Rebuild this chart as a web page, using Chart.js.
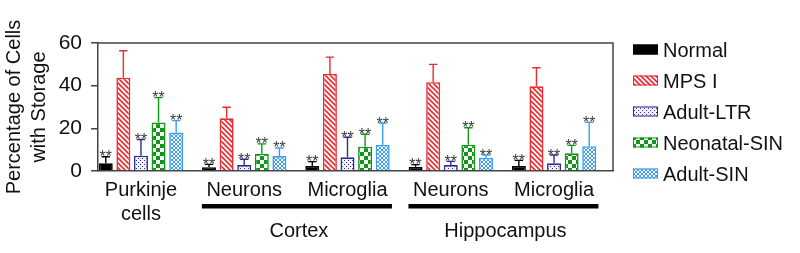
<!DOCTYPE html>
<html><head><meta charset="utf-8">
<script src="https://cdn.jsdelivr.net/npm/chart.js@4/dist/chart.umd.min.js"></script>
<style>html,body{margin:0;padding:0;background:#fff;}canvas{display:block;}</style>
</head><body>
<canvas id="c" width="800" height="253"></canvas>
<script>
// ---- data ----
const categories = [['Purkinje', 'cells'], 'Neurons', 'Microglia', 'Neurons', 'Microglia'];
const groupLabels = ['Cortex', 'Hippocampus'];
const groupFirst = [1, 3];
const groupLast = [2, 4];
const seriesNames = ['Normal', 'MPS I', 'Adult-LTR', 'Neonatal-SIN', 'Adult-SIN'];
const normal    = [3.6, 1.7, 2.3, 2.0, 2.3];
const normalErr = [3.1, 1.4, 2.1, 1.0, 2.7];
const mps       = [43.7, 24.7, 45.5, 41.6, 39.7];
const mpsErr    = [12.7, 5.2, 7.9, 8.4, 8.7];
const ltr       = [7.2, 2.8, 6.4, 2.8, 3.6];
const ltrErr    = [7.6, 2.7, 9.4, 1.7, 3.9];
const neo       = [22.7, 8.1, 11.4, 12.3, 8.3];
const neoErr    = [11.7, 4.6, 5.8, 8.0, 3.7];
const sin       = [18.0, 7.0, 12.3, 6.1, 11.6];
const sinErr    = [5.6, 3.8, 10.2, 1.4, 11.2];
const sigMarks  = ['**', '', '**', '**', '**'];
const yTitle = ['Percentage of Cells', 'with Storage'];
const yMin = 0, yMax = 60, yStep = 20;

const FONT = '"Liberation Sans", Arial, sans-serif';

// ---- patterns ----
function makePattern(size, draw) {
  const c = document.createElement('canvas');
  c.width = size; c.height = size;
  const g = c.getContext('2d');
  draw(g, size);
  return document.getElementById('c').getContext('2d').createPattern(c, 'repeat');
}
const RED = '#ec2a30', NAVY = '#2d2d8c', GREEN = '#12961a', LBLUE = '#3a9cf5';
const patStripes = makePattern(5, (g, s) => {
  g.fillStyle = '#fff'; g.fillRect(0, 0, s, s);
  g.strokeStyle = RED; g.lineWidth = 1.6;
  g.beginPath();
  for (const k of [-s, 0, s]) { g.moveTo(k - 1, -1); g.lineTo(k + s + 1, s + 1); }
  g.stroke();
});
const patDots = makePattern(4, (g, s) => {
  g.fillStyle = '#f1f0ff'; g.fillRect(0, 0, s, s);
  g.fillStyle = NAVY; g.fillRect(0, 0, 1, 1); g.fillRect(2, 2, 1, 1);
});
const patChecker = makePattern(8, (g, s) => {
  g.fillStyle = '#fff'; g.fillRect(0, 0, s, s);
  g.fillStyle = GREEN; g.fillRect(0, 0, s / 2, s / 2); g.fillRect(s / 2, s / 2, s / 2, s / 2);
});
const patHatch = makePattern(4, (g, s) => {
  g.fillStyle = '#fff'; g.fillRect(0, 0, s, s);
  g.strokeStyle = LBLUE; g.lineWidth = 1;
  g.beginPath();
  for (const k of [-s, 0, s]) { g.moveTo(k, 0); g.lineTo(k + s, s); g.moveTo(k + s, 0); g.lineTo(k, s); }
  g.stroke();
});

const seriesValues = [normal, mps, ltr, neo, sin];
const seriesErrors = [normalErr, mpsErr, ltrErr, neoErr, sinErr];
const fills = ['#000', patStripes, patDots, patChecker, patHatch];
const borders = ['#000', RED, NAVY, GREEN, LBLUE];

const datasets = seriesNames.map((name, k) => ({
  label: name,
  data: seriesValues[k].map((v, i) => ({ x: i, y: v })),
  backgroundColor: fills[k],
  borderColor: borders[k],
  borderWidth: 1.6,
  categoryPercentage: 0.852,
  barPercentage: 0.795
}));

// ---- plugins ----
const errorBars = {
  id: 'errorBars',
  afterDatasetsDraw(chart) {
    const ctx = chart.ctx, y = chart.scales.y;
    chart.data.datasets.forEach((ds, k) => {
      const meta = chart.getDatasetMeta(k);
      meta.data.forEach((bar, i) => {
        const top = y.getPixelForValue(seriesValues[k][i] + seriesErrors[k][i]);
        ctx.save();
        ctx.strokeStyle = borders[k]; ctx.lineWidth = 1.4;
        ctx.beginPath();
        ctx.moveTo(bar.x, bar.y); ctx.lineTo(bar.x, top);
        const cw = bar.width * 0.3;
        ctx.moveTo(bar.x - cw, top); ctx.lineTo(bar.x + cw, top);
        ctx.stroke();
        if (sigMarks[k]) {
          ctx.fillStyle = '#3a3a3a';
          ctx.font = '16px ' + FONT;
          ctx.textAlign = 'center'; ctx.textBaseline = 'alphabetic';
          ctx.fillText(sigMarks[k], bar.x, top + 5.5);
        }
        ctx.restore();
      });
    });
  }
};

const frameAndGroups = {
  id: 'frameAndGroups',
  afterDraw(chart) {
    const ctx = chart.ctx, ca = chart.chartArea, x = chart.scales.x;
    ctx.save();
    // box top/right
    ctx.strokeStyle = '#444'; ctx.lineWidth = 1.5;
    ctx.beginPath();
    ctx.moveTo(ca.left, ca.top); ctx.lineTo(ca.right, ca.top); ctx.lineTo(ca.right, ca.bottom);
    ctx.stroke();
    // group brackets
    const step = x.getPixelForValue(1) - x.getPixelForValue(0);
    groupLabels.forEach((g, k) => {
      const l = x.getPixelForValue(groupFirst[k]) - 0.41 * step;
      const r = x.getPixelForValue(groupLast[k]) + 0.43 * step;
      ctx.fillStyle = '#000';
      ctx.fillRect(l, ca.bottom + 33, r - l, 4.5);
      ctx.fillStyle = '#111';
      ctx.font = '20px ' + FONT;
      ctx.textAlign = 'center'; ctx.textBaseline = 'alphabetic';
      ctx.fillText(g, (l + r) / 2 + 2, ca.bottom + 66);
    });
    // legend
    chart.data.datasets.forEach((ds, k) => {
      const cy = ca.top + 6.5 + k * 31;
      const x0 = ca.right + 20;
      ctx.fillStyle = fills[k];
      ctx.fillRect(x0, cy - 5, 25, 10);
      ctx.strokeStyle = borders[k]; ctx.lineWidth = 1;
      ctx.strokeRect(x0 + 0.5, cy - 4.5, 24, 9);
      ctx.fillStyle = '#111';
      ctx.font = '20px ' + FONT;
      ctx.textAlign = 'left'; ctx.textBaseline = 'middle';
      ctx.fillText(ds.label, x0 + 30, cy + 1.5);
    });
    ctx.restore();
  }
};

Chart.defaults.font.family = FONT;
Chart.defaults.color = '#111';

new Chart(document.getElementById('c'), {
  type: 'bar',
  data: { datasets },
  options: {
    responsive: false,
    animation: false,
    devicePixelRatio: 1,
    events: [],
    layout: { padding: { top: 43, right: 187, bottom: 0, left: 0 } },
    plugins: { legend: { display: false }, tooltip: { enabled: false } },
    scales: {
      x: {
        type: 'linear',
        offset: false,
        min: -0.416, max: 4.571,
        grid: { display: false, offset: false, drawTicks: false, tickLength: 0 },
        border: { display: true, color: '#444', width: 1.5 },
        ticks: {
          stepSize: 1, includeBounds: false, autoSkip: false, maxRotation: 0, minRotation: 0,
          padding: 7, font: { size: 20 }, color: '#111',
          callback: (v) => (Number.isInteger(v) && categories[v] !== undefined) ? categories[v] : ''
        },
        afterFit(s) { s.height = 82; }
      },
      y: {
        min: yMin, max: yMax,
        grid: { display: true, drawOnChartArea: false, drawTicks: true, tickLength: 7, color: '#444', lineWidth: 1.5 },
        border: { display: true, color: '#444', width: 1.5 },
        ticks: { stepSize: yStep, padding: 9, font: { size: 21 }, color: '#111' },
        title: { display: true, text: yTitle, font: { size: 20, lineHeight: 1.25 }, color: '#111', padding: { top: 2, bottom: 0 } },
        afterFit(s) { s.width = 98; }
      }
    }
  },
  plugins: [errorBars, frameAndGroups]
});
</script>
</body></html>
